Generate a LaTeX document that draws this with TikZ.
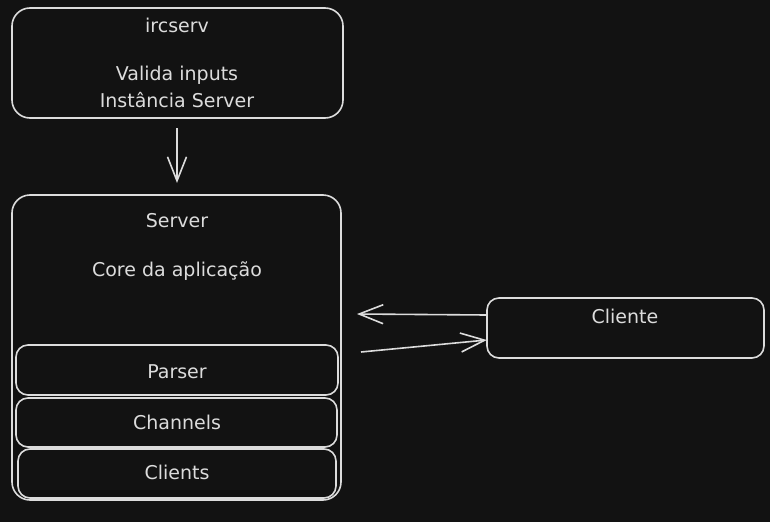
\documentclass[tikz,border=0pt]{standalone}
\usepackage{fontspec}
\setmainfont{DejaVu Sans}
\usetikzlibrary{arrows.meta}
\definecolor{bg}{HTML}{121212}
\definecolor{ink}{HTML}{DCDCDC}
\begin{document}
\begin{tikzpicture}[x=1pt,y=-1pt,
  box/.style={draw=ink,line width=1.6pt,fill=bg,rounded corners=#1},
  box/.default=18pt,
  lbl/.style={text=ink,font=\fontsize{19}{22}\selectfont,inner sep=0pt,align=center},
  arr/.style={draw=ink,line width=1.6pt,-{Straight Barb[length=24pt,width=19pt,line width=1.6pt]}}]
\fill[bg] (0,0) rectangle (770,522);
\useasboundingbox (0,0) rectangle (770,522);
% boxes
\draw[box] (12,8) rectangle (343,118);
\node[inner sep=0pt,minimum width=331pt,minimum height=110pt] (irc) at (177.5,63) {};
\draw[box] (12,195) rectangle (341,500);
\node[inner sep=0pt,minimum width=329pt,minimum height=305pt] (server) at (176.5,347.5) {};
\draw[box=12pt] (16,345) rectangle (338,395);
\node[inner sep=0pt] (parser) at (177,370) {};
\draw[box=12pt] (16,398) rectangle (337,447);
\draw[box=12pt] (18,449) rectangle (336,498);
\draw[box=12pt] (487,298) rectangle (764,358);
\node[inner sep=0pt,minimum width=277pt,minimum height=60pt] (cliente) at (625.5,328) {};
% labels
\node[lbl] (t1) at (177,25) {ircserv};
\node[lbl] (t2) at (177,75) {Valida inputs};
\node[lbl] (t3) at (177,100) {Instância Server};
\node[lbl] (t4) at (177,221) {Server};
\node[lbl] (t5) at (177,271) {Core da aplicação};
\node[lbl] (t6) at (177,372) {Parser};
\node[lbl] (t7) at (177,422) {Channels};
\node[lbl] (t8) at (177,472) {Clients};
\node[lbl] (t9) at (625,316) {Cliente};
% connectors
\coordinate (a1s) at (177,128);
\coordinate (a1e) at (177,183);
\draw[arr] (a1s) -- (a1e);
\coordinate (c1) at (cliente.west |- 0,315);
\coordinate (l1) at (357,314);
\draw[arr] (c1) -- (l1);
\coordinate (r1) at (361,352);
\coordinate (c2) at (cliente.west |- 0,340);
\draw[arr] (r1) -- (c2);
\end{tikzpicture}
\end{document}
